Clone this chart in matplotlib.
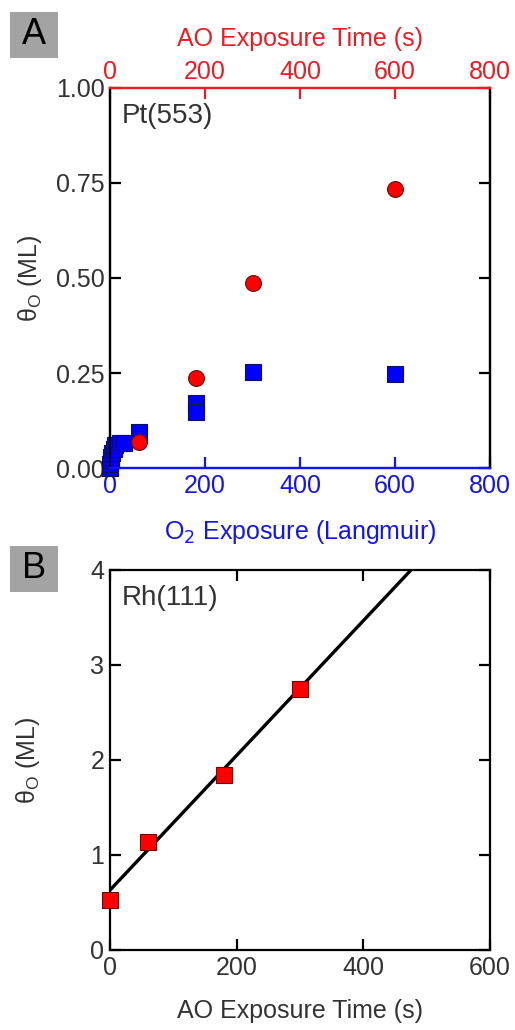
import matplotlib
matplotlib.use("Agg")
import matplotlib.pyplot as plt
from matplotlib.patches import Rectangle

plt.rcParams['font.family'] = ['Liberation Sans', 'DejaVu Sans']

# Panel A data: Pt(553)
o2_exposure = [0, 1, 2, 3, 5, 8, 10, 20, 30, 60, 180, 180, 300, 600]
theta_o2 = [0.0, 0.01, 0.02, 0.03, 0.04, 0.05, 0.06, 0.065, 0.065, 0.095, 0.170, 0.148, 0.252, 0.248]
ao_time_A = [60, 180, 300, 600]
theta_ao_A = [0.068, 0.237, 0.487, 0.734]

# Panel B data: Rh(111)
ao_time_B = [0, 60, 180, 300]
theta_ao_B = [0.53, 1.14, 1.84, 2.75]
theta_err_B = [0.08, 0.08, 0.08, 0.08]
fit_intercept = 0.63
fit_slope = 0.00709
fit_x = [0, 600]

RED = '#ec1c24'
BLUE = '#1414f0'
TXT = '#333333'
FS = 18
FS_NAME = 20

fig = plt.figure(figsize=(5.15, 10.30), dpi=100)

# ---------- Panel A ----------
axA = fig.add_axes([0.2136, 0.5456, 0.738, 0.369])
axA.set_xlim(0, 800)
axA.set_ylim(0, 1.0)
axA.scatter(o2_exposure, theta_o2, marker='s', s=130, color='#0000ff',
            edgecolors='#101060', linewidths=0.8, zorder=3, clip_on=False)
axT = axA.twiny()
axT.set_xlim(0, 800)
axT.scatter(ao_time_A, theta_ao_A, marker='o', s=130, color='#ff0000',
            edgecolors='#601010', linewidths=0.8, zorder=4, clip_on=False)

for ax in (axA, axT):
    for s in ax.spines.values():
        s.set_linewidth(1.6)
    ax.spines['left'].set_color('black')
    ax.spines['right'].set_color('black')
    ax.spines['bottom'].set_color(BLUE)
    ax.spines['top'].set_color(RED)

axA.set_xticks([0, 200, 400, 600, 800])
axA.set_yticks([0, 0.25, 0.5, 0.75, 1.0])
axA.set_yticklabels(['0.00', '0.25', '0.50', '0.75', '1.00'])
axA.tick_params(axis='x', direction='in', length=8, width=1.6, colors=BLUE,
                labelsize=FS, pad=4, top=False)
axA.tick_params(axis='y', direction='in', length=8, width=1.6, colors='black',
                labelcolor=TXT, labelsize=FS, right=True, pad=4)
axT.set_xticks([0, 200, 400, 600, 800])
axT.tick_params(axis='x', direction='in', length=8, width=1.6, colors=RED,
                labelsize=FS, pad=3)

axA.set_xlabel('O$_2$ Exposure (Langmuir)', color=BLUE, fontsize=FS, labelpad=15)
axT.set_xlabel('AO Exposure Time (s)', color=RED, fontsize=FS, labelpad=10)
axA.set_ylabel('θ$_\\mathregular{O}$ (ML)', color=TXT, fontsize=FS)
axA.yaxis.set_label_coords(-0.174, 0.5)
axA.text(0.03, 0.96, 'Pt(553)', transform=axA.transAxes, fontsize=FS_NAME,
         color=TXT, ha='left', va='top')

# ---------- Panel B ----------
axB = fig.add_axes([0.2136, 0.0777, 0.738, 0.369])
axB.set_xlim(0, 600)
axB.set_ylim(0, 4)
fit_y = [fit_intercept + fit_slope * x for x in fit_x]
axB.plot(fit_x, fit_y, color='black', linewidth=2.4, zorder=2)
axB.errorbar(ao_time_B, theta_ao_B, yerr=theta_err_B, fmt='s', ms=12,
             color='#ff0000', mec='#700000', mew=0.8, ecolor='#ff0000',
             elinewidth=2, capsize=0, zorder=3, clip_on=False)
for s in axB.spines.values():
    s.set_linewidth(1.6)
    s.set_color('black')
axB.set_xticks([0, 200, 400, 600])
axB.set_yticks([0, 1, 2, 3, 4])
axB.tick_params(axis='both', direction='in', length=8, width=1.6, colors='black',
                labelcolor=TXT, labelsize=FS, top=True, right=True, pad=4)
axB.set_xlabel('AO Exposure Time (s)', color=TXT, fontsize=FS, labelpad=14)
axB.set_ylabel('θ$_\\mathregular{O}$ (ML)', color=TXT, fontsize=FS)
axB.yaxis.set_label_coords(-0.18, 0.5)
axB.text(0.03, 0.96, 'Rh(111)', transform=axB.transAxes, fontsize=FS_NAME,
         color=TXT, ha='left', va='top')

# Panel letters
for (y0, letter) in [(1030 - 58, 'A'), (1030 - 592, 'B')]:
    fig.patches.append(Rectangle((10 / 515, y0 / 1030), 48 / 515, 46 / 1030,
                                 transform=fig.transFigure, facecolor='#a3a3a3',
                                 edgecolor='none'))
    fig.text(34 / 515, (y0 + 23) / 1030, letter, fontsize=26, color='black',
             ha='center', va='center')

fig.savefig('out.png', dpi=100)
